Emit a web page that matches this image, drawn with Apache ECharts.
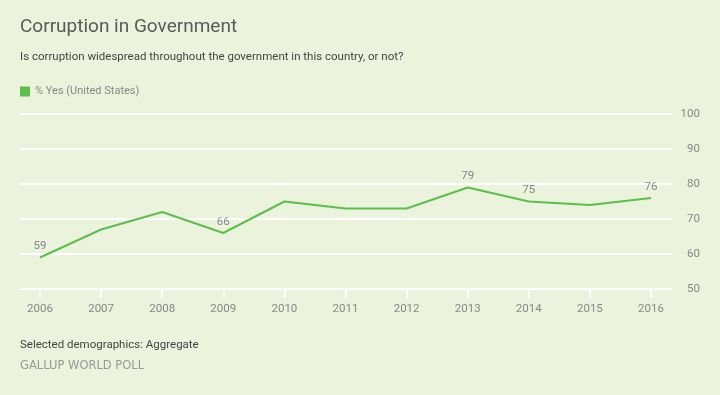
<!DOCTYPE html>
<html><head><meta charset="utf-8">
<script src="https://cdn.jsdelivr.net/npm/echarts@6/dist/echarts.min.js"></script>
<style>html,body{margin:0;padding:0;background:#ebf3dc;}#c{width:720px;height:395px;}</style>
</head><body><div id="c"></div>
<script>
const years = ['2006','2007','2008','2009','2010','2011','2012','2013','2014','2015','2016'];
const yesUS = [59,67,72,66,75,73,73,79,75,74,76];
const labeled = [true,false,false,true,false,false,false,true,true,false,true];

const FONT = 'Roboto, "Open Sans", sans-serif';
const GREEN = '#5cbf4c';
const chart = echarts.init(document.getElementById('c'));
chart.setOption({
  backgroundColor: '#ebf3dc',
  animation: false,
  title: [
    {text: 'Corruption in Government', left: 15, top: 13, textStyle: {fontFamily: FONT, fontSize: 19, fontWeight: 'normal', color: '#5a5a5a'}},
    {text: 'Is corruption widespread throughout the government in this country, or not?', left: 15, top: 46, textStyle: {fontFamily: FONT, fontSize: 11.5, fontWeight: 'normal', color: '#444'}},
    {text: 'Selected demographics: Aggregate', left: 15, top: 334, textStyle: {fontFamily: FONT, fontSize: 11.5, fontWeight: 'normal', color: '#444'}},
    {text: 'GALLUP WORLD POLL', left: 15, top: 355, textStyle: {fontFamily: '"DejaVu Sans", sans-serif', fontSize: 11.5, fontWeight: 'normal', color: '#999'}}
  ],
  legend: {left: 15, top: 81, itemWidth: 10, itemHeight: 10, itemGap: 5, icon: 'rect',
    textStyle: {fontFamily: FONT, fontSize: 11, color: '#888'},
    data: [{name: '% Yes (United States)', itemStyle: {color: GREEN, opacity: 1}}]},
  grid: [
    {left: 20, right: 48, top: 114, bottom: 106, containLabel: false},
    {left: 40, right: 69, top: 114, bottom: 106, containLabel: false}
  ],
  xAxis: [
    {type: 'category', gridIndex: 0, data: years, show: false},
    {type: 'category', gridIndex: 1, data: years, boundaryGap: false,
      axisLine: {show: false},
      axisTick: {show: true, length: 9, lineStyle: {color: '#fff', width: 2}},
      axisLabel: {fontFamily: FONT, fontSize: 11.5, color: '#888', margin: 14}}
  ],
  yAxis: [
    {type: 'value', gridIndex: 0, position: 'right', min: 50, max: 100, interval: 10,
      axisLine: {show: false}, axisTick: {show: false},
      splitLine: {lineStyle: {color: '#fff', width: 2}},
      axisLabel: {fontFamily: FONT, fontSize: 11.5, color: '#888', align: 'right', margin: 28}},
    {type: 'value', gridIndex: 1, min: 50, max: 100, interval: 10, show: false, splitLine: {show: false}}
  ],
  series: [{
    name: '% Yes (United States)', type: 'line', xAxisIndex: 1, yAxisIndex: 1,
    data: yesUS.map((v, i) => ({value: v, label: {show: labeled[i]}})),
    symbol: 'circle', symbolSize: 0.01, showSymbol: true, itemStyle: {color: GREEN},
    color: GREEN,
    lineStyle: {width: 2, color: GREEN},
    label: {position: 'top', distance: 5, fontFamily: FONT, fontSize: 11.5, color: '#888'}
  }]
});
</script></body></html>
